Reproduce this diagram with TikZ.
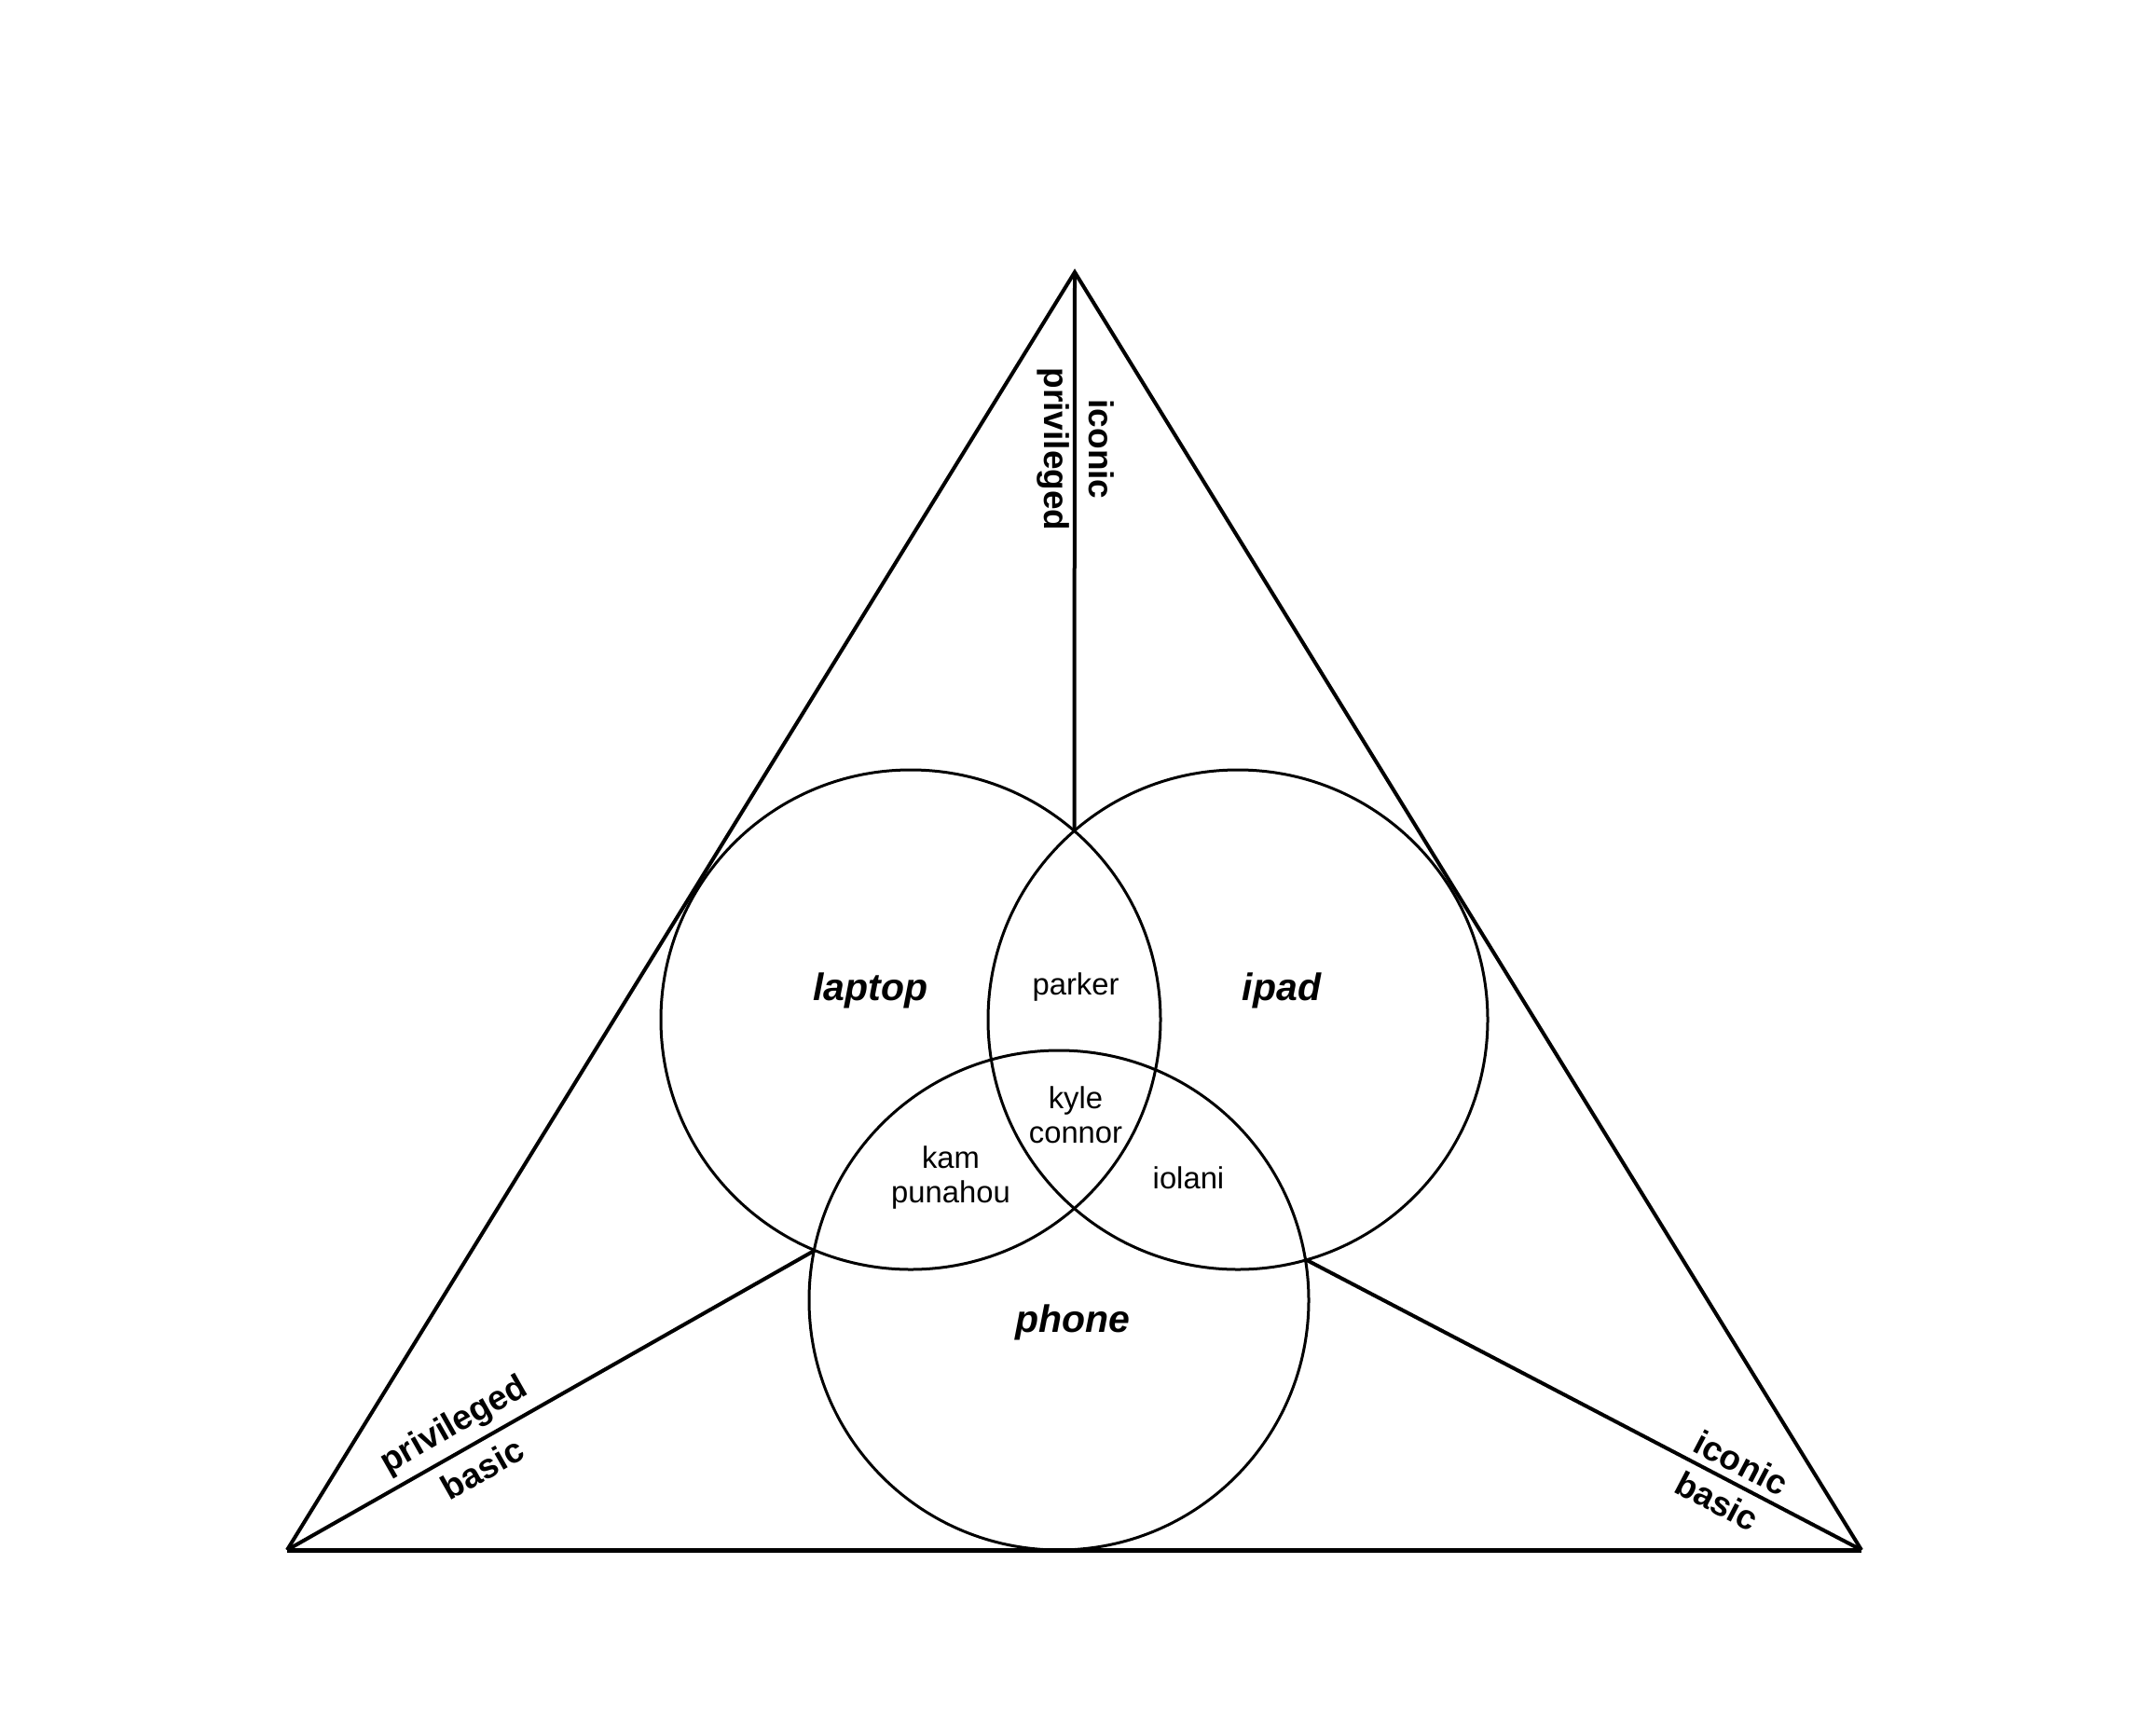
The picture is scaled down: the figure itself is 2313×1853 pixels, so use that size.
\documentclass[tikz,border=0pt]{standalone}
\usepackage{fontspec}
\setmainfont{Liberation Sans}
\begin{document}
\begin{tikzpicture}[x=0.5pt,y=-0.5pt,
  side/.style={line width=2pt, line join=miter},
  ring/.style={line width=1.5pt},
  axislabel/.style={inner sep=0pt, font=\fontsize{18.5}{22}\selectfont\bfseries},
  setlabel/.style={inner sep=0pt, font=\fontsize{20.5}{24}\selectfont\bfseries\itshape},
  member/.style={inner sep=0pt, align=center, font=\fontsize{16.4}{18.5}\selectfont}]
\useasboundingbox (0,0) rectangle (2313,1853);
\fill[white] (0,0) rectangle (2313,1853);
% corners
\coordinate (apex) at (1153,292);
\coordinate (bl) at (308,1663);
\coordinate (br) at (1997,1663);
% circle centres
\coordinate (cl) at (977,1094);
\coordinate (ci) at (1328,1094);
\coordinate (cp) at (1136,1395);
% circle intersections
\coordinate (xtop) at (1152.5,893);
\coordinate (xleft) at (875,1341);
\coordinate (xright) at (1400,1351);
% triangle
\draw[side] (bl) -- (apex) -- (br);
\draw[line width=2.5pt] (bl) -- (br);
% inner lines
\draw[side] (apex) -- (xtop);
\draw[side] (bl) -- (xleft);
\draw[side] (br) -- (xright);
% circles
\draw[ring] (cl) circle[radius=134pt];
\draw[ring] (ci) circle[radius=134pt];
\draw[ring] (cp) circle[radius=134pt];
% set labels
\node[setlabel] (laptop) at (934,1063) {laptop};
\node[setlabel] (ipad) at (1375,1063) {ipad};
\node[setlabel] (phone) at (1151,1419) {phone};
% members
\node[member] (parker) at (1154,1059) {parker};
\node[member] (kyle) at (1154,1196) {kyle\\connor};
\node[member] (kam) at (1020,1264) {kam\\punahou};
\node[member] (iolani) at (1275,1264) {iolani};
% axis labels
\node[axislabel, anchor=base, rotate=-90] (topiconic) at (1168,482) {iconic};
\node[axislabel, anchor=base, rotate=-90] (topprivileged) at (1120,482) {privileged};
\node[axislabel, anchor=base, rotate=29.6] (lprivileged) at (492,1538) {privileged};
\node[axislabel, anchor=base, rotate=29.6] (lbasic) at (524,1587) {basic};
\node[axislabel, anchor=base, rotate=-27.6] (riconic) at (1862,1581) {iconic};
\node[axislabel, anchor=base, rotate=-27.6] (rbasic) at (1836,1622) {basic};
\end{tikzpicture}
\end{document}
